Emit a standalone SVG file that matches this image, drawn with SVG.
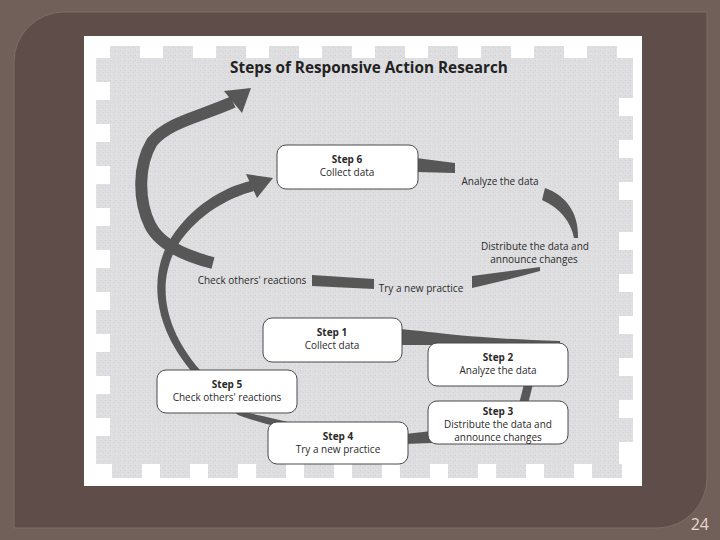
<svg xmlns="http://www.w3.org/2000/svg" width="720" height="540" viewBox="0 0 720 540">
  <defs>
    <pattern id="scan" width="5" height="5" patternUnits="userSpaceOnUse">
      <rect width="5" height="5" fill="#dedee0"/>
      <rect x="0" y="0" width="1" height="1" fill="#d0d0d2"/>
      <rect x="3" y="2" width="1" height="1" fill="#d4d4d6"/>
      <rect x="1" y="4" width="1" height="1" fill="#e8e8e9"/>
    </pattern>
    <style>
      .box { fill: #ffffff; stroke: #4a4a4a; stroke-width: 1; }
      .band { fill: #575757; }
      .t { font-family: "Open Sans", "Liberation Sans", sans-serif; font-size: 10px; fill: #2a2a2a; text-anchor: middle; }
      .b { font-weight: bold; }
      .notch { fill: #ffffff; }
    </style>
  </defs>

  <!-- slide background -->
  <rect x="0" y="0" width="720" height="540" fill="#715f5a"/>
  <path d="M14 62 A50 50 0 0 1 64 12 H707 V478 A50 50 0 0 1 657 528 H14 Z" fill="#5e4d49" stroke="#806c66" stroke-width="1"/>

  <!-- white page -->
  <rect x="84" y="36" width="558" height="450" fill="#ffffff"/>

  <!-- scanned gray area with stamp edges -->
  <g id="scan-area" fill="url(#scan)">
    <rect x="96" y="58" width="537" height="406"/>
    <rect x="110" y="46" width="30" height="12"/>
    <rect x="163" y="46" width="30" height="12"/>
    <rect x="216" y="46" width="30" height="12"/>
    <rect x="269" y="46" width="30" height="12"/>
    <rect x="322" y="46" width="30" height="12"/>
    <rect x="375" y="46" width="30" height="12"/>
    <rect x="428" y="46" width="30" height="12"/>
    <rect x="481" y="46" width="30" height="12"/>
    <rect x="534" y="46" width="30" height="12"/>
    <rect x="587" y="46" width="30" height="12"/>
    <rect x="112" y="464" width="30" height="14"/>
    <rect x="160" y="464" width="30" height="14"/>
    <rect x="208" y="464" width="30" height="14"/>
    <rect x="256" y="464" width="30" height="14"/>
    <rect x="304" y="464" width="30" height="14"/>
    <rect x="352" y="464" width="30" height="14"/>
    <rect x="400" y="464" width="30" height="14"/>
    <rect x="448" y="464" width="30" height="14"/>
    <rect x="496" y="464" width="30" height="14"/>
    <rect x="544" y="464" width="30" height="14"/>
    <rect x="592" y="464" width="30" height="14"/>
  </g>
  <g id="scan-notches" class="notch">
    <rect x="96" y="82" width="14" height="18"/>
    <rect x="96" y="124" width="14" height="18"/>
    <rect x="96" y="166" width="14" height="18"/>
    <rect x="96" y="208" width="14" height="18"/>
    <rect x="96" y="250" width="14" height="18"/>
    <rect x="96" y="292" width="14" height="18"/>
    <rect x="96" y="334" width="14" height="18"/>
    <rect x="96" y="376" width="14" height="18"/>
    <rect x="96" y="418" width="14" height="18"/>
    <rect x="619" y="98" width="14" height="18"/>
    <rect x="619" y="140" width="14" height="18"/>
    <rect x="619" y="182" width="14" height="18"/>
    <rect x="619" y="232" width="14" height="18"/>
    <rect x="619" y="274" width="14" height="18"/>
    <rect x="619" y="316" width="14" height="18"/>
    <rect x="619" y="358" width="14" height="18"/>
    <rect x="619" y="400" width="14" height="18"/>
    <rect x="619" y="442" width="14" height="22"/>
  </g>

  <!-- title -->
  <text x="369" y="73" font-family="'Open Sans', 'Liberation Sans', sans-serif" font-size="15.3" font-weight="bold" fill="#222" text-anchor="middle">Steps of Responsive Action Research</text>

  <!-- connectors -->
  <g id="connectors">
    <!-- upper loop -->
    <path class="band" d="M416 158 L455 163 L455 173 L416 172 Z"/>
    <path class="band" d="M545 188 C565 195 579 212 578 238 L574 238 C571 222 560 208 542 200 Z"/>
    <path class="band" d="M472 276 L540 267 L540 271 C515 278 495 283 472 288 Z"/>
    <path class="band" d="M312 275 L374 279 L374 289 L312 286 Z"/>
    <!-- big outer arc to top arrowhead -->
    <path d="M213 263 C185 256 160 245 150 225 C138 200 138 165 152 142 C168 122 202 116 233 102" fill="none" stroke="#575757" stroke-width="12"/>
    <polygon class="band" points="224,91 242,113 251,88"/>
    <!-- lower loop -->
    <path class="band" d="M398 329 C430 331 460 338 560 341 L560 347 C470 346 430 345 398 345 Z"/>
    <path class="band" d="M524 384 L533 384 L528 404 L519 404 Z"/>
    <path class="band" d="M405 434 L432 431 L432 443 L405 444 Z"/>
    <path class="band" d="M232 410 C250 413 272 418 292 423 L292 430 C272 426 252 420 238 415 Z"/>
    <!-- inner arc from Step 5 up to Step 6 -->
    <path class="band" d="M194 374 C156 331 146 279 171 238 C192 206 222 188 250 181 L254 191 C228 198 199 214 179 243 C155 281 164 329 200 370 Z"/>
    <polygon class="band" points="246,174 273,178 257,198"/>
  </g>

  <!-- free labels of upper loop -->
  <g id="labels">
    <text class="t" x="500" y="185">Analyze the data</text>
    <text class="t" x="535" y="250">Distribute the data and</text>
    <text class="t" x="534" y="263">announce changes</text>
    <text class="t" x="421" y="292">Try a new practice</text>
    <text class="t" x="252" y="284">Check others' reactions</text>
  </g>

  <g id="step6">
    <rect class="box" x="277" y="145" width="141" height="44" rx="9"/>
    <text class="t b" x="347" y="163">Step 6</text>
    <text class="t" x="347" y="176">Collect data</text>
  </g>
  <g id="step1">
    <rect class="box" x="263" y="318" width="139" height="44" rx="9"/>
    <text class="t b" x="332" y="336">Step 1</text>
    <text class="t" x="332" y="349">Collect data</text>
  </g>
  <g id="step2">
    <rect class="box" x="428" y="343" width="140" height="43" rx="9"/>
    <text class="t b" x="498" y="361">Step 2</text>
    <text class="t" x="498" y="374">Analyze the data</text>
  </g>
  <g id="step5">
    <rect class="box" x="157" y="370" width="140" height="43" rx="9"/>
    <text class="t b" x="227" y="388">Step 5</text>
    <text class="t" x="227" y="401">Check others' reactions</text>
  </g>
  <g id="step3">
    <rect class="box" x="428" y="401" width="140" height="43" rx="9"/>
    <text class="t b" x="498" y="415">Step 3</text>
    <text class="t" x="498" y="428">Distribute the data and</text>
    <text class="t" x="498" y="441">announce changes</text>
  </g>
  <g id="step4">
    <rect class="box" x="268" y="422" width="140" height="42" rx="9"/>
    <text class="t b" x="338" y="440">Step 4</text>
    <text class="t" x="338" y="453">Try a new practice</text>
  </g>

  <!-- page number -->
  <text x="709" y="530" font-family="'Open Sans', 'Liberation Sans', sans-serif" font-size="16" fill="#ead9d0" text-anchor="end">24</text>
</svg>
